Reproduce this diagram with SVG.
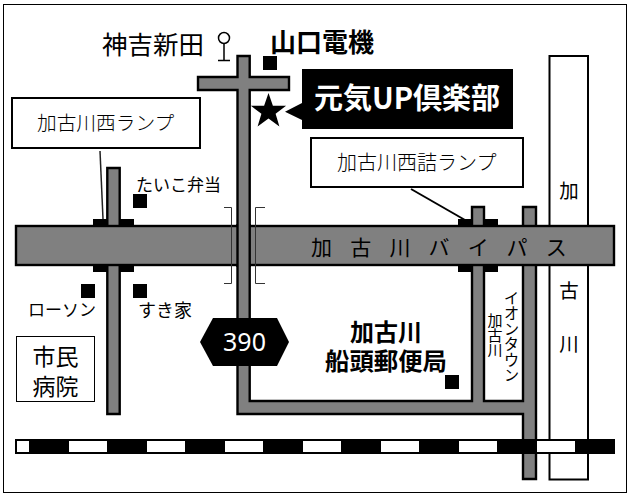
<svg xmlns="http://www.w3.org/2000/svg" width="631" height="496" viewBox="0 0 631 496">
<style>
text{font-family:"Noto Sans CJK JP","Liberation Sans",sans-serif;fill:#000}
.c{text-anchor:middle}
.b{font-weight:700}
.road{fill:#808080;stroke:#000;stroke-width:2.400}
.box{fill:#fff;stroke:#000;stroke-width:2}
.sq{fill:#000}
.thin{fill:none;stroke:#333;stroke-width:1}
.v{writing-mode:vertical-rl;text-anchor:start}
</style>
<rect width="631" height="496" fill="#fff"/>
<rect x="3.500" y="4.500" width="623" height="488" fill="#fff" stroke="#000" stroke-width="1"/>
<g id="river"><rect class="box" x="549.500" y="56" width="38.500" height="423.500"/>
<text class="c" x="569" y="198" font-size="19.500">加</text>
<text class="c" x="569" y="298" font-size="19.500">古</text>
<text class="c" x="569" y="351" font-size="19.500">川</text></g>
<g id="connectors">
<rect class="sq" x="93" y="219" width="41" height="7"/>
<rect class="sq" x="93" y="265" width="41" height="7"/>
<rect class="sq" x="458" y="219" width="40" height="7"/>
<rect class="sq" x="458" y="265" width="40" height="7"/>
<path class="road" d="M107.300 168H119.700V414H107.300Z"/>
<path class="road" d="M237.500 56H249.700V77H289V90H249.700V401H472V207H484V401H523V207H536V479H523V414H237.500V90H198V77H237.500Z"/>
<rect class="road" x="16" y="226" width="598" height="39"/>
<rect x="238" y="224" width="11" height="43" fill="#808080"/>
<path d="M237.500 224V267M249.700 224V267" stroke="#000" stroke-width="2.400" fill="none"/>
<path class="thin" d="M224 207.500H231.500V283.500H224M265 207.500H255.500V283.500H265"/>
<path d="M100 151L103 219" stroke="#222" stroke-width="1.500" fill="none"/>
<path d="M411 189L465 220" stroke="#000" stroke-width="2" fill="none"/>
</g>
<g id="bypass-label"><text x="311" y="255" font-size="21" letter-spacing="18.200">加古川バイパス</text></g>
<g id="rail"><rect class="sq" x="15" y="439" width="600" height="15"/>
<path fill="#fff" d="M17 441H29V452H17ZM69 441H107V452H69ZM147 441H185V452H147ZM225 441H263V452H225ZM303 441H341V452H303ZM381 441H419V452H381ZM459 441H497V452H459ZM537 441H575V452H537Z"/></g>
<g id="shinden"><text x="102" y="54" font-size="25.500">神吉新田</text>
<circle cx="224" cy="38" r="5.500" fill="#fff" stroke="#000" stroke-width="1.500"/>
<path d="M224 43V61M218 60.500H230" stroke="#000" stroke-width="1.500" fill="none"/></g>
<g id="yamaguchi"><text class="b" x="270" y="52" font-size="26">山口電機</text><rect class="sq" x="263" y="56" width="14" height="14"/></g>
<g id="genki"><path class="sq" d="M302 69H513V129H302V120L285 111.700L302 103Z"/>
<text class="b" x="314" y="109" font-size="29" style="fill:#fff">元気UP倶楽部</text></g>
<g id="star"><path class="sq" d="M268.500 93L272.900 105.800H286.100L275.600 113.700L279.400 126.500L268.500 118.600L257.600 126.500L261.400 113.700L250.900 105.800H264.100Z"/></g>
<g id="ramp-west"><rect class="box" x="12" y="98" width="188" height="50"/><text x="37" y="130" font-size="19.700" font-weight="300">加古川西ランプ</text></g>
<g id="ramp-nishizume"><rect class="box" x="311" y="138" width="212" height="49"/><text x="337" y="170" font-size="20" font-weight="300">加古川西詰ランプ</text></g>
<g id="taiko"><text x="136" y="191" font-size="17">たいこ弁当</text><rect class="sq" x="133" y="194" width="14" height="14"/></g>
<g id="lawson"><rect class="sq" x="81" y="284" width="14" height="14"/><text x="28" y="316" font-size="17">ローソン</text></g>
<g id="sukiya"><rect class="sq" x="133" y="284" width="14" height="14"/><text x="138" y="317" font-size="18">すき家</text></g>
<g id="hospital"><rect x="16.500" y="336.500" width="78" height="65" fill="#fff" stroke="#000" stroke-width="1"/>
<text class="c" font-size="23"><tspan x="55.500" y="365">市民</tspan><tspan x="55.500" y="395">病院</tspan></text></g>
<g id="route390"><path class="sq" d="M213 318H277L289 342L277 366H213L200 342Z"/>
<text class="c" x="244.500" y="351" font-size="25" style="fill:#fff;font-family:'Noto Sans',sans-serif">390</text></g>
<g id="post"><text class="c b"><tspan x="386" y="341" font-size="24">加古川</tspan><tspan x="386" y="370" font-size="24.400">船頭郵便局</tspan></text>
<rect class="sq" x="445" y="375" width="14" height="14"/></g>
<g id="aeon"><text class="v" x="511.500" y="290" font-size="15.500">イオンタウン</text><text class="v" x="495" y="313" font-size="15">加古川</text></g>
</svg>
